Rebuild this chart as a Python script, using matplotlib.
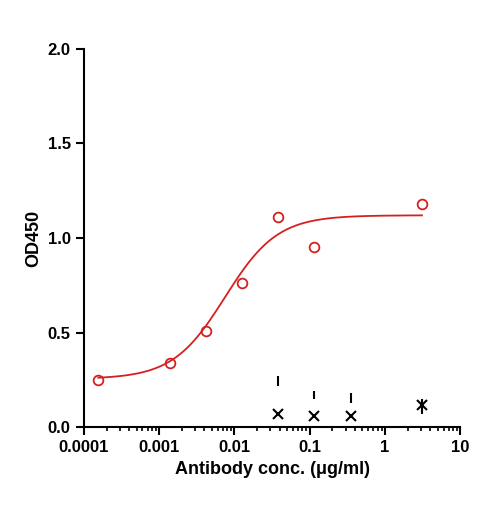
import numpy as np
import matplotlib.pyplot as plt

plt.rcParams['font.family'] = ['Liberation Sans', 'DejaVu Sans']

conc = [1.55e-4, 1.39e-3, 4.2e-3, 0.0126, 0.038, 0.115, 3.1]
od = [0.25, 0.34, 0.51, 0.76, 1.11, 0.95, 1.18]

ctrl_conc = [0.038, 0.115, 0.35, 3.1]
ctrl_od = [0.07, 0.06, 0.06, 0.12]
dash_lo = [0.22, 0.15, 0.13, 0.07]
dash_hi = [0.27, 0.19, 0.18, 0.15]

# 4PL fit parameters
bottom, top, ec50, hill = 0.255, 1.12, 0.0075, 1.25

fig = plt.figure(figsize=(4.85, 5.08), dpi=100)
ax = fig.add_axes([0.173, 0.159, 0.776, 0.745])

xs = np.logspace(np.log10(1.55e-4), np.log10(3.1), 300)
ys = bottom + (top - bottom) / (1 + (ec50 / xs) ** hill)
ax.plot(xs, ys, color='#d62020', lw=1.3)
ax.plot(conc, od, 'o', mfc='none', mec='#d62020', ms=7, mew=1.3)
ax.plot(ctrl_conc, ctrl_od, 'x', color='black', ms=7, mew=1.5)
ax.vlines(ctrl_conc, dash_lo, dash_hi, color='black', lw=1.5)

ax.set_xscale('log')
ax.set_xlim(1e-4, 10)
ax.set_ylim(0, 2.0)
ax.set_xticks([1e-4, 1e-3, 1e-2, 0.1, 1, 10])
ax.set_xticklabels(['0.0001', '0.001', '0.01', '0.1', '1', '10'])
ax.set_yticks([0, 0.5, 1.0, 1.5, 2.0])
ax.set_yticklabels(['0.0', '0.5', '1.0', '1.5', '2.0'])
for s in ['top', 'right']:
    ax.spines[s].set_visible(False)
for s in ['left', 'bottom']:
    ax.spines[s].set_linewidth(1.5)
ax.tick_params(width=1.5, length=6, labelsize=12)
ax.tick_params(which='minor', width=1.2, length=3)
for lbl in ax.get_xticklabels() + ax.get_yticklabels():
    lbl.set_fontweight('bold')
ax.set_xlabel('Antibody conc. (μg/ml)', fontsize=13, fontweight='bold')
ax.set_ylabel('OD450', fontsize=13, fontweight='bold')

plt.savefig('out.png', dpi=100)
